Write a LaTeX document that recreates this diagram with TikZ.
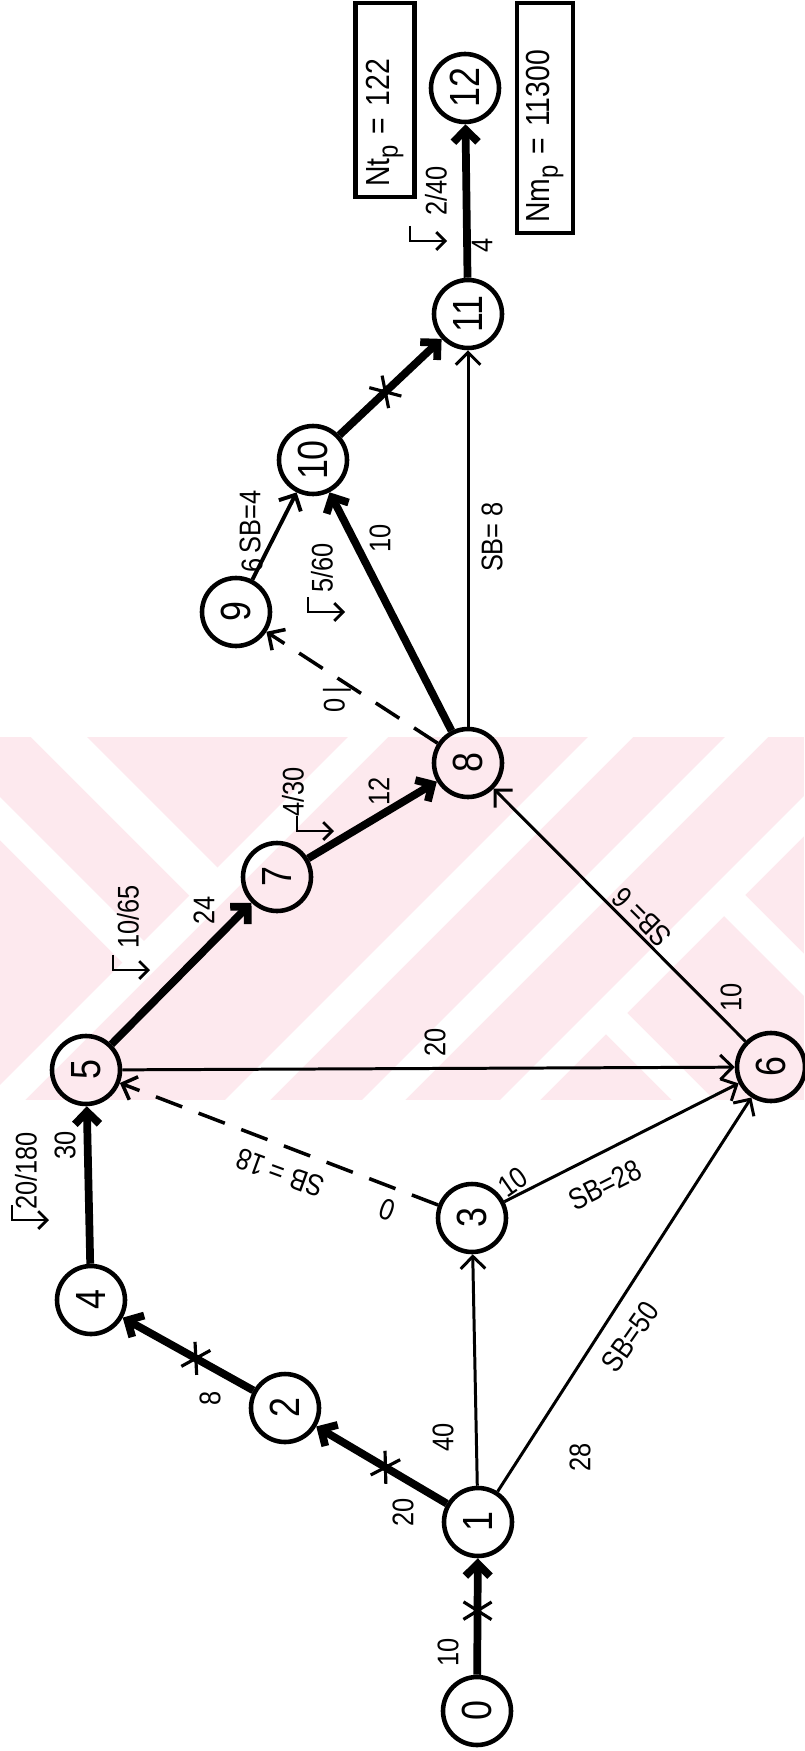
\documentclass[tikz,border=0pt]{standalone}
\usepackage{fontspec}
\setmainfont{Liberation Sans}[FakeStretch=0.85]
\usepackage{tikz}
\usetikzlibrary{arrows.meta,decorations.markings}
\definecolor{wmark}{RGB}{253,233,238}
\tikzset{
    event/.style={
    circle,draw=black,line width=1.3pt,minimum size=6.8mm,inner sep=0pt,rotate=90,font=\fontsize{12}{12}\selectfont
    },
    lab/.style={
    inner sep=1pt,font=\fontsize{8.5}{9}\selectfont
    },
    vlab/.style={
    lab,rotate=90
    },
    total/.style={
    rectangle,draw=black,line width=1.4pt,rotate=90,inner sep=0pt,inner xsep=1mm,align=left,font=\fontsize{9.5}{10}\selectfont
    },
  act/.style={draw, line width=0.85pt},
  act2/.style={draw, line width=1.1pt},
  crit/.style={draw, line width=2.2pt},
  dummy/.style={draw, line width=1pt, dash pattern=on 8pt off 5pt},
  crossed/.style={postaction={decorate,decoration={markings,
    mark=at position #1 with {\draw[line width=0.9pt,-] (-2.5pt,-4pt) -- (2.5pt,4pt) (-2.5pt,4pt) -- (2.5pt,-4pt);}}}},
  cue/.style={draw, line width=0.8pt, -{Straight Barb[length=2.5pt,width=5pt]}},
}
\begin{document}
\begin{tikzpicture}[x=0.1mm, y=-0.1mm, >={Straight Barb[length=3.5pt,width=7pt]}]
   \useasboundingbox (0,0) rectangle (804,1751);

   % pale stripes behind the middle part
   \begin{scope}
   \clip (0,737) rectangle (804,1100);
   \fill[wmark] (0,737) rectangle (804,1100);
   \foreach \c/\w in {1085/40,1325/45,1462/43,1600/40}
     \fill[white] (\c-600,600) -- ({\c+\w-600},600) -- ({\c+\w-1250},1250) -- (\c-1250,1250) -- cycle;
   \fill[white] (-50,600) -- (227,877) -- (199,905) -- (-106,600) -- cycle;
   \fill[white] (-197,600) -- (154,951) -- (132,972) -- (-240,600) -- cycle;
   \fill[white] (735,885) -- (1100,1250) -- (1058,1250) -- (714,906) -- cycle;
   \fill[white] (617,1003) -- (864,1250) -- (822,1250) -- (596,1024) -- cycle;
   \end{scope}

   \node[event] (n0)  at (477,1711) {0};
   \node[event] (n1)  at (478,1522) {1};
   \node[event] (n2)  at (285,1408) {2};
   \node[event] (n3)  at (472,1218) {3};
   \node[event] (n4)  at ( 91,1300) {4};
   \node[event] (n5)  at ( 86,1070) {5};
   \node[event] (n6)  at (771,1067) {6};
   \node[event] (n7)  at (277, 877) {7};
   \node[event] (n8)  at (468, 763) {8};
   \node[event] (n9)  at (236, 612) {9};
   \node[event] (n10) at (313, 460) {10};
   \node[event] (n11) at (468, 314) {11};
   \node[event] (n12) at (465,  88) {12};

   \node[total, text width=17.4mm, minimum width=19.4mm, minimum height=5.9mm] (ntp) at (385,100)
        {Nt\raisebox{-.45ex}{\footnotesize p} = 122};
   \node[total, text width=21mm, minimum width=23mm, minimum height=5.6mm] (nmp) at (545,118)
        {Nm\raisebox{-.45ex}{\footnotesize p} = 11300};

  \path[->]
    (n0)  edge[crit, crossed=.55] (n1)
    (n1)  edge[crit, crossed=.47] (n2)
          edge[act] (n3)
          edge[act] (n6)
    (n2)  edge[crit, crossed=.44] (n4)
    (n4)  edge[crit] (n5)
    (n3)  edge[dummy] (n5)
          edge[act] (n6)
    (n5)  edge[act] (n6)
          edge[crit] (n7)
    (n7)  edge[crit] (n8)
    (n6)  edge[act] (n8)
    (n8)  edge[dummy] (n9)
          edge[crit] (n10)
          edge[act] (n11)
    (n9)  edge[act2] (n10)
    (n10) edge[crit, crossed=.45] (n11)
    (n11) edge[crit] (n12);

   \node[vlab] (d01)   at (448,1652) {10};
   \node[vlab] (d12)   at (403,1512) {20};
   \node[vlab] (d13)   at (443,1437) {40};
   \node[vlab] (d16)   at (580,1457) {28};
   \node[vlab] (d24)   at (210,1398) {8};
   \node[vlab] (d45)   at ( 65,1145) {30};
   \node[vlab] (f45)   at ( 26,1171) {20/180};
   \node[lab, rotate=160] (d35) at (387,1210) {0};
   \node[lab, rotate=160] (s35) at (280,1173) {SB = 18};
   \node[lab, rotate=35]  (d36) at (513,1182) {10};
   \node[lab, rotate=27]  (s36) at (605,1185) {SB=28};
   \node[lab, rotate=55]  (s16) at (630,1337) {SB=50};
   \node[vlab] (d56)   at (435,1042) {20};
   \node[vlab] (d57)   at (204, 910) {24};
   \node[vlab] (f57)   at (128, 917) {10/65};
   \node[vlab] (d78)   at (379, 791) {12};
   \node[vlab] (f78)   at (293, 792) {4/30};
   \node[vlab] (d68)   at (731, 997) {10};
   \node[lab, rotate=135] (s68) at (642,917) {SB= 6};
   \node[vlab] (d89)   at (337, 700) {0\,|};
   \node[vlab] (f810)  at (322, 568) {5/60};
   \node[vlab] (d810)  at (380, 538) {10};
   \node[vlab] (s811)  at (492, 537) {SB= 8};
   \node[vlab] (d910)  at (252, 565) {6};
   \node[vlab] (s910)  at (250, 522) {SB=4};
   \node[vlab] (d1112) at (482, 245) {4};
   \node[vlab] (f1112) at (436, 191) {2/40};

   \coordinate (a45)   at ( 12,1205);
   \coordinate (a57)   at (113, 955);
   \coordinate (a78)   at (297, 816);
   \coordinate (a810)  at (308, 597);
   \coordinate (a1112) at (410, 226);
   \foreach \a in {a45,a57,a78,a810,a1112}
     \draw[cue] (\a) -- ++(0,15) -- ++(37,0);
\end{tikzpicture}
\end{document}
